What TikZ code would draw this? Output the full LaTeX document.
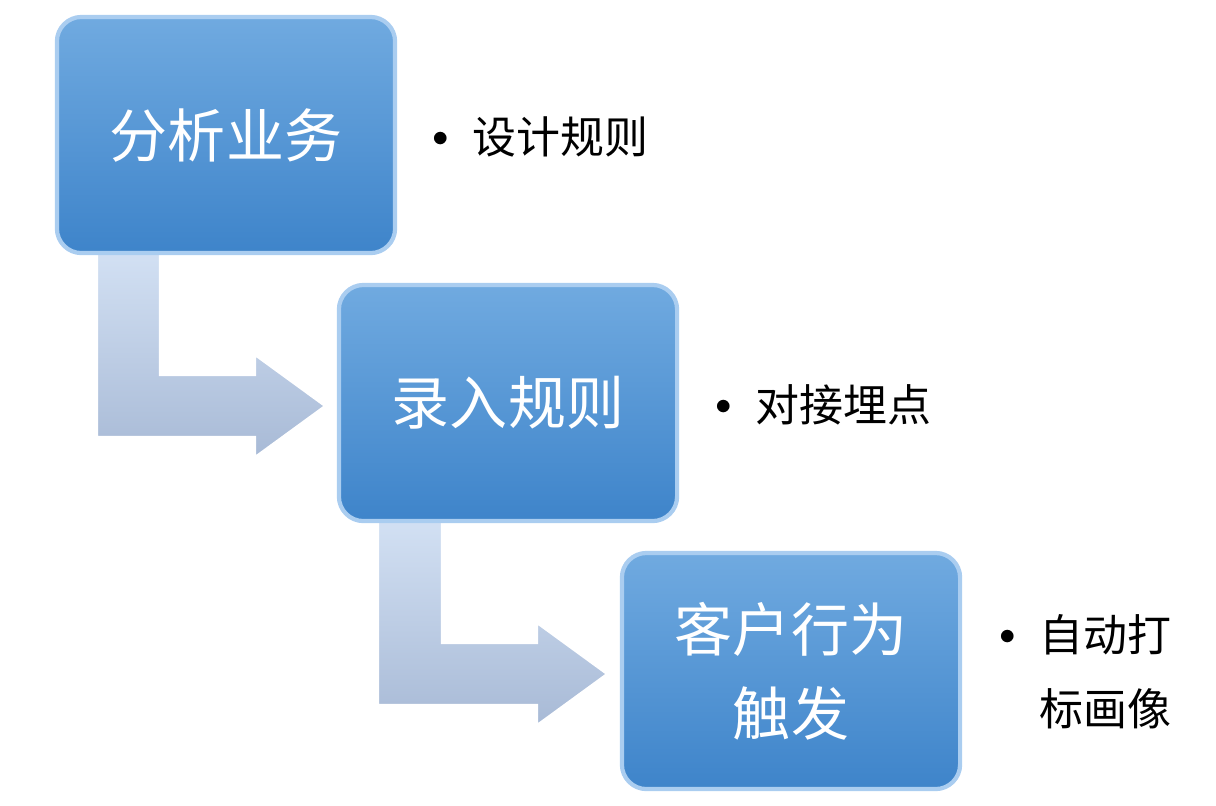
\documentclass[tikz,border=0pt]{standalone}
\usepackage{fontspec}
\newfontfamily\cjk{Noto Sans CJK SC}
\definecolor{boxtop}{RGB}{112,170,224}
\definecolor{boxbot}{RGB}{62,132,202}
\definecolor{boxrim}{RGB}{170,205,240}
\definecolor{arrtop}{RGB}{210,224,243}
\definecolor{arrbot}{RGB}{168,186,214}
\newcommand{\bul}{{\rmfamily\fontsize{16}{20}\selectfont\textbullet}\hspace{0.12cm}}
\begin{document}
\begin{tikzpicture}[
        x=0.01cm, y=-0.01cm,
        font=\cjk
    ]
    \tikzset{
        stepbox/.style = {rectangle, rounded corners=7pt, draw=boxrim, line width=1.2pt,
            top color=boxtop, bottom color=boxbot, minimum width=3.38cm, minimum height=2.36cm,
            text=white, align=center, font=\cjk\fontsize{16.5}{24}\selectfont},
        note/.style = {anchor=west, align=left, font=\cjk\fontsize{12.5}{21}\selectfont},
        bendarrow/.style = {top color=arrtop, bottom color=arrbot, draw=white, line width=0.6pt},
    }
    \useasboundingbox (0,0) rectangle (1216,805);
    %
    \shade[bendarrow] (97,253) -- (160,253) -- (160,375) -- (255,375) -- (255,355)
        -- (325,406) -- (255,457) -- (255,437) -- (97,437) -- cycle;
    \shade[bendarrow] (378,521) -- (442,521) -- (442,643) -- (537,643) -- (537,623)
        -- (607,674) -- (537,725) -- (537,705) -- (378,705) -- cycle;
    %
    \node[stepbox] at (226,135) (s1) {分析业务};
    \node[stepbox] at (508,403) (s2) {录入规则};
    \node[stepbox] at (791,671) (s3) {客户行为\\触发};
    %
    \node[note] at (408,137) (n1) {\bul 设计规则};
    \node[note] at (691,405) (n2) {\bul 对接埋点};
    \node[note] at (975,672) (n3) {\bul 自动打\\\hphantom{\bul}标画像};
\end{tikzpicture}
\end{document}
